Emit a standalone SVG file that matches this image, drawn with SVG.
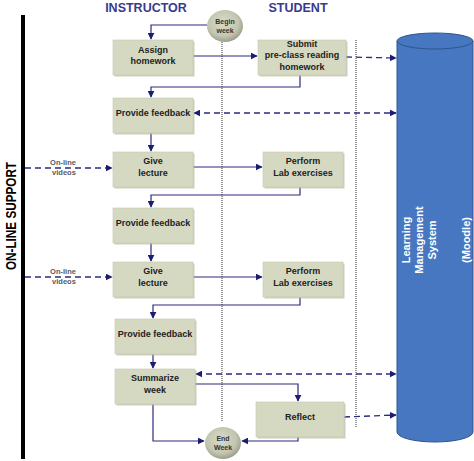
<svg xmlns="http://www.w3.org/2000/svg" width="474" height="461" viewBox="0 0 474 461">
<style>
.box{fill:#d5d9c1;stroke:#c4c8ae;stroke-width:0.6}
.sh{fill:#b8bba6;opacity:0.7}
.t{font-family:"Liberation Sans",Arial,sans-serif;font-weight:bold;font-size:9px;fill:#222;text-anchor:middle}
.hd{font-family:"Liberation Sans",Arial,sans-serif;font-weight:bold;font-size:12.5px;fill:#3a3a8c;text-anchor:middle}
.ct{font-family:"Liberation Sans",Arial,sans-serif;font-weight:bold;font-size:7px;fill:#333;text-anchor:middle}
.vid{font-family:"Liberation Sans",Arial,sans-serif;font-weight:bold;font-size:7.5px;fill:#5a5a5a;text-anchor:middle}
.ln{fill:none;stroke:#2b2b80;stroke-width:1.2}
.dl{fill:none;stroke:#2b2b80;stroke-width:1.3;stroke-dasharray:6,4}
.dot{stroke:#555;stroke-width:1.2;stroke-dasharray:1,1}
.lms{font-family:"Liberation Sans",Arial,sans-serif;font-weight:bold;font-size:11px;fill:#fff;text-anchor:middle}
</style>
<defs>
<marker id="ah" viewBox="0 0 10 10" refX="9" refY="5" markerWidth="7" markerHeight="7" markerUnits="userSpaceOnUse" orient="auto-start-reverse">
<path d="M0,0 L10,5 L0,10 z" fill="#1c1c70"/>
</marker>
<radialGradient id="cg" cx="45%" cy="40%" r="60%">
<stop offset="0" stop-color="#d9dccb"/>
<stop offset="0.7" stop-color="#c2c5af"/>
<stop offset="1" stop-color="#9c9f89"/>
</radialGradient>
</defs>
<rect width="474" height="461" fill="#fff"/>

<!-- left support bar -->
<g id="support">
<rect x="21" y="15" width="4" height="444" fill="#000"/>
<text transform="translate(16,216) rotate(-90)" font-family="'Liberation Sans Narrow','Liberation Sans',Arial,sans-serif" font-weight="bold" font-size="14" fill="#000" text-anchor="middle" textLength="108" lengthAdjust="spacingAndGlyphs">ON-LINE SUPPORT</text>
</g>

<text class="hd" x="146" y="12">INSTRUCTOR</text>
<text class="hd" x="298" y="12">STUDENT</text>

<!-- swimlane separators -->
<g id="lanes">
<line class="dot" x1="222" y1="42" x2="222" y2="422"/>
<line class="dot" x1="356" y1="40" x2="356" y2="428"/>
</g>

<!-- LMS cylinder -->
<g id="lms">
<path d="M397,41 V432 A38,10 0 0 0 473,432 V41 Z" fill="#4677c0" stroke="#2e5590" stroke-width="1"/>
<ellipse cx="435" cy="41" rx="38" ry="8" fill="#4677c0" stroke="#2e5590" stroke-width="1"/>
<g transform="translate(0,240) rotate(-90)">
<text class="lms" x="0" y="410">Learning</text>
<text class="lms" x="0" y="423">Management</text>
<text class="lms" x="0" y="436">System</text>
<text class="lms" x="0" y="470">(Moodle)</text>
</g>
</g>

<g id="connectors">
<path class="ln" d="M207,25 H151 V39" marker-end="url(#ah)"/>
<path class="ln" d="M193,56 H257" marker-end="url(#ah)"/>
<path class="ln" d="M300,75 V87 H151 V97" marker-end="url(#ah)"/>
<path class="dl" d="M346,57 L396,58" marker-end="url(#ah)"/>
<path class="dl" d="M194,113 H396" marker-start="url(#ah)" marker-end="url(#ah)"/>
<path class="ln" d="M151,133 V151" marker-end="url(#ah)"/>
<path class="dl" d="M25,168 H112" marker-end="url(#ah)"/>
<path class="ln" d="M193,167 H262" marker-end="url(#ah)"/>
<path class="ln" d="M300,187 V195 H151 V207" marker-end="url(#ah)"/>
<path class="ln" d="M151,243 V261" marker-end="url(#ah)"/>
<path class="dl" d="M25,277 H112" marker-end="url(#ah)"/>
<path class="ln" d="M193,277 H262" marker-end="url(#ah)"/>
<path class="ln" d="M300,297 V305 H153 V318" marker-end="url(#ah)"/>
<path class="ln" d="M153,354 V368" marker-end="url(#ah)"/>
<path class="dl" d="M196,374 H396" marker-start="url(#ah)" marker-end="url(#ah)"/>
<path class="ln" d="M195,384 H298 V401" marker-end="url(#ah)"/>
<path class="dl" d="M344,417 L396,415" marker-end="url(#ah)"/>
<path class="ln" d="M298,437 V441 H242" marker-end="url(#ah)"/>
<path class="ln" d="M153,404 V441 H204" marker-end="url(#ah)"/>
</g>

<g id="video1"><text class="vid" x="63" y="165">On-line</text><text class="vid" x="64" y="175">videos</text></g>
<g id="video2"><text class="vid" x="63" y="274">On-line</text><text class="vid" x="64" y="284">videos</text></g>

<g id="begin"><ellipse cx="225" cy="26" rx="18" ry="16" fill="url(#cg)"/><text class="ct" x="225" y="24">Begin</text><text class="ct" x="225" y="32.5">week</text></g>

<g id="assign"><rect class="sh" x="114.5" y="41.5" width="80" height="35"/><rect class="box" x="113" y="40" width="80" height="35"/><text class="t" x="153" y="52.5">Assign</text><text class="t" x="153" y="63.5">homework</text></g>

<g id="submit"><rect class="sh" x="259.5" y="41.5" width="88" height="35"/><rect class="box" x="258" y="40" width="88" height="35"/><text class="t" x="302" y="46.5">Submit</text><text class="t" x="302" y="58">pre-class reading</text><text class="t" x="302" y="69.5">homework</text></g>

<g id="feedback1"><rect class="sh" x="114.5" y="99.5" width="80" height="35"/><rect class="box" x="113" y="98" width="80" height="35"/><text class="t" x="153" y="116">Provide feedback</text></g>

<g id="lecture1"><rect class="sh" x="114.5" y="153.5" width="80" height="35"/><rect class="box" x="113" y="152" width="80" height="35"/><text class="t" x="153" y="164">Give</text><text class="t" x="153" y="175.5">lecture</text></g>

<g id="lab1"><rect class="sh" x="264.5" y="153.5" width="80" height="35"/><rect class="box" x="263" y="152" width="80" height="35"/><text class="t" x="303" y="164">Perform</text><text class="t" x="303" y="175.5">Lab exercises</text></g>

<g id="feedback2"><rect class="sh" x="114.5" y="209.5" width="80" height="35"/><rect class="box" x="113" y="208" width="80" height="35"/><text class="t" x="153" y="226">Provide feedback</text></g>

<g id="lecture2"><rect class="sh" x="114.5" y="263.5" width="80" height="35"/><rect class="box" x="113" y="262" width="80" height="35"/><text class="t" x="153" y="274">Give</text><text class="t" x="153" y="285.5">lecture</text></g>

<g id="lab2"><rect class="sh" x="264.5" y="263.5" width="80" height="35"/><rect class="box" x="263" y="262" width="80" height="35"/><text class="t" x="303" y="274">Perform</text><text class="t" x="303" y="285.5">Lab exercises</text></g>

<g id="feedback3"><rect class="sh" x="116.5" y="320.5" width="80" height="35"/><rect class="box" x="115" y="319" width="80" height="35"/><text class="t" x="155" y="337">Provide feedback</text></g>

<g id="summarize"><rect class="sh" x="116.5" y="370.5" width="80" height="35"/><rect class="box" x="115" y="369" width="80" height="35"/><text class="t" x="155" y="381">Summarize</text><text class="t" x="155" y="392.5">week</text></g>

<g id="reflect"><rect class="sh" x="257.5" y="403.5" width="88" height="35"/><rect class="box" x="256" y="402" width="88" height="35"/><text class="t" x="300" y="420">Reflect</text></g>

<g id="end"><ellipse cx="223" cy="443" rx="18" ry="16" fill="url(#cg)"/><text class="ct" x="223" y="441">End</text><text class="ct" x="223" y="449.5">Week</text></g>
</svg>
